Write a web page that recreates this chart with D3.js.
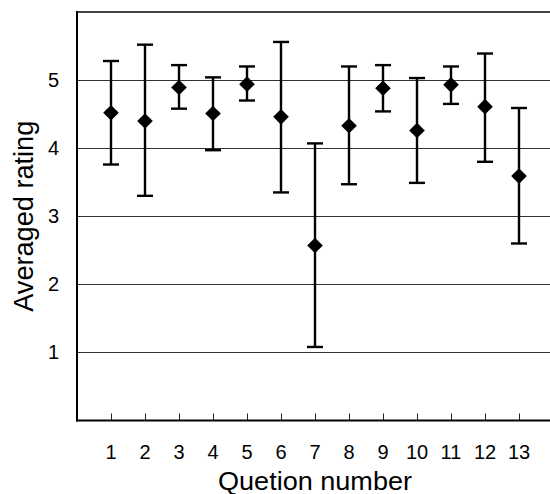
<!DOCTYPE html>
<html>
<head>
<meta charset="utf-8">
<script src="https://cdn.jsdelivr.net/npm/d3@7"></script>
<style>
  html, body { margin: 0; padding: 0; background: #fff; }
  svg { display: block; }
  text { font-family: "Liberation Sans", Arial, sans-serif; fill: #000; }
</style>
</head>
<body>
<svg id="chart" width="550" height="494"></svg>
<script>
const questions = [1,2,3,4,5,6,7,8,9,10,11,12,13];
const means = [4.52,4.40,4.89,4.51,4.94,4.46,2.57,4.33,4.88,4.26,4.93,4.61,3.59];
const upper = [5.28,5.52,5.22,5.04,5.20,5.56,4.07,5.20,5.22,5.03,5.20,5.39,4.59];
const lower = [3.76,3.30,4.58,3.97,4.70,3.35,1.08,3.47,4.54,3.49,4.65,3.80,2.60];
const yTicks = [1,2,3,4,5];
const xLabel = "Quetion number";
const yLabel = "Averaged rating";

(function () {
const svg = d3.select("#chart");
const mLeft = 77, mRight = 553, mTop = 12, mBottom = 420.5;

const x = d3.scaleLinear().domain([0, 14]).range([mLeft, mRight]);
const y = d3.scaleLinear().domain([0, 6]).range([mBottom, mTop]);

// gridlines
svg.append("g").selectAll("line").data(yTicks).join("line")
  .attr("x1", mLeft).attr("x2", 550)
  .attr("y1", d => Math.round(y(d)) + 0.5).attr("y2", d => Math.round(y(d)) + 0.5)
  .attr("stroke", "#333").attr("stroke-width", 1);

// top border
svg.append("line").attr("x1", mLeft).attr("x2", 550).attr("y1", mTop).attr("y2", mTop)
  .attr("stroke", "#444").attr("stroke-width", 2);

// x axis
const xAxis = d3.axisBottom(x).tickValues(questions).tickSize(-7).tickPadding(0).tickFormat(() => "");
const gx = svg.append("g").attr("transform", `translate(0,${mBottom})`).call(xAxis);
gx.select(".domain").remove();
gx.selectAll(".tick line").attr("stroke", "#222").attr("stroke-width", 1);
svg.append("line").attr("x1", mLeft - 1).attr("x2", 550).attr("y1", mBottom).attr("y2", mBottom)
  .attr("stroke", "#000").attr("stroke-width", 2);

// x tick labels
svg.append("g").selectAll("text").data(questions).join("text")
  .attr("x", d => x(d)).attr("y", 459)
  .attr("text-anchor", "middle").attr("font-size", 20)
  .text(d => d);

// y axis
const yAxis = d3.axisLeft(y).tickValues(yTicks).tickSize(0).tickPadding(0).tickFormat(() => "");
const gy = svg.append("g").attr("transform", `translate(${mLeft},0)`).call(yAxis);
gy.select(".domain").remove();
svg.append("line").attr("x1", mLeft).attr("x2", mLeft).attr("y1", mTop - 1).attr("y2", mBottom + 1)
  .attr("stroke", "#000").attr("stroke-width", 2);

svg.append("g").selectAll("text").data(yTicks).join("text")
  .attr("x", 59).attr("y", d => y(d) + 7)
  .attr("text-anchor", "end").attr("font-size", 20)
  .text(d => d);

// axis titles
svg.append("text")
  .attr("x", (mLeft + mRight) / 2).attr("y", 490)
  .attr("text-anchor", "middle").attr("font-size", 25)
  .attr("textLength", 194).attr("lengthAdjust", "spacingAndGlyphs")
  .text(xLabel);
svg.append("text")
  .attr("transform", `translate(33,${(mTop + mBottom) / 2}) rotate(-90)`)
  .attr("text-anchor", "middle").attr("font-size", 27)
  .attr("textLength", 191).attr("lengthAdjust", "spacingAndGlyphs")
  .text(yLabel);

// error bars
const data = questions.map((q, i) => ({q, m: means[i], lo: lower[i], hi: upper[i]}));
const g = svg.append("g");
g.selectAll("line.v").data(data).join("line").attr("class", "v")
  .attr("x1", d => x(d.q)).attr("x2", d => x(d.q))
  .attr("y1", d => y(d.hi)).attr("y2", d => y(d.lo))
  .attr("stroke", "#000").attr("stroke-width", 2.4);
g.selectAll("line.cu").data(data).join("line").attr("class", "cu")
  .attr("x1", d => x(d.q) - 8).attr("x2", d => x(d.q) + 8)
  .attr("y1", d => y(d.hi)).attr("y2", d => y(d.hi))
  .attr("stroke", "#000").attr("stroke-width", 2.4);
g.selectAll("line.cl").data(data).join("line").attr("class", "cl")
  .attr("x1", d => x(d.q) - 8).attr("x2", d => x(d.q) + 8)
  .attr("y1", d => y(d.lo)).attr("y2", d => y(d.lo))
  .attr("stroke", "#000").attr("stroke-width", 2.4);

// diamonds
const r = 7.8;
g.selectAll("path.dm").data(data).join("path").attr("class", "dm")
  .attr("d", d => {
    const cx = x(d.q), cy = y(d.m);
    return `M${cx},${cy - r}L${cx + r},${cy}L${cx},${cy + r}L${cx - r},${cy}Z`;
  })
  .attr("fill", "#000");
})();
</script>
</body>
</html>
